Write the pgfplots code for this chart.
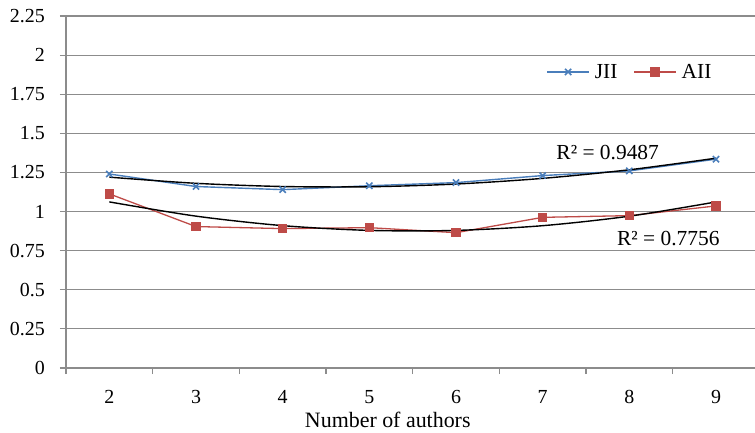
\documentclass[border=0pt]{standalone}
\usepackage{fontspec}
\setmainfont{Liberation Serif}
\usepackage{pgfplots}
\pgfplotsset{compat=1.18}
\definecolor{jii}{HTML}{4A7EBB}
\definecolor{aii}{HTML}{BE4B48}
\definecolor{gridgray}{HTML}{8C8C8C}
\newcommand{\chartfont}{\fontsize{20}{24}\selectfont}
\newcommand{\notefont}{\fontsize{21.5}{25}\selectfont}

\begin{document}
\begin{tikzpicture}
\begin{axis}[name=ax,
  scale only axis, width=689bp, height=352bp,
  xmin=1.5, xmax=9.45, ymin=0, ymax=2.25,
  axis lines=left,
  axis line style={-, draw=gridgray, line width=1.2bp},
  ytick={0,0.25,0.5,0.75,1,1.25,1.5,1.75,2,2.25},
  yticklabels={0,0.25,0.5,0.75,1,1.25,1.5,1.75,2,2.25},
  xtick={1.5,2.5,3.5,4.5,5.5,6.5,7.5,8.5},
  xticklabels={},
  extra x ticks={2,3,4,5,6,7,8,9},
  extra x tick labels={2,3,4,5,6,7,8,9},
  extra x tick style={major tick length=0bp,
    xticklabel style={anchor=base, yshift=-35bp}},
  tick align=outside, major tick length=6bp,
  tick style={draw=gridgray, line width=1.2bp},
  ymajorgrids=true,
  grid style={draw=gridgray, line width=1.2bp},
  tick label style={font=\chartfont, text=black},
  yticklabel style={anchor=east, inner sep=0bp, xshift=-15bp},
  legend style={draw=none, fill=none, font=\notefont,
    legend columns=2, at={(rel axis cs:0.697,0.841)}, anchor=west,
    inner sep=0bp, nodes={inner sep=0bp},
    /tikz/every odd column/.append style={column sep=5bp},
    /tikz/every even column/.append style={column sep=16bp}},
  legend image code/.code={
    \draw[mark repeat=2, mark phase=2, #1]
      plot coordinates {(0bp,0bp) (21bp,0bp) (42bp,0bp)};},
  clip=false,
]
% series
\addplot[jii, line width=1.4bp, mark=x, mark size=4.4bp,
  mark options={line width=1.6bp}]
  coordinates {(2,1.240) (3,1.160) (4,1.140) (5,1.165) (6,1.185)
               (7,1.230) (8,1.260) (9,1.335)};
\addlegendentry{JII}
\addplot[aii, line width=1.3bp, mark=square*, mark size=4.1bp]
  coordinates {(2,1.113) (3,0.904) (4,0.891) (5,0.897) (6,0.865)
               (7,0.963) (8,0.974) (9,1.036)};
\addlegendentry{AII}
% quadratic trend lines (fitted values at each category)
\addplot[black, line width=1.4bp, smooth, forget plot]
  coordinates {(2,1.2198) (3,1.1805) (4,1.1601) (5,1.1585) (6,1.1759)
               (7,1.2121) (8,1.2671) (9,1.3411)};
\addplot[black, line width=1.4bp, smooth, forget plot]
  coordinates {(2,1.0617) (3,0.9707) (4,0.9100) (5,0.8795) (6,0.8795)
               (7,0.9097) (8,0.9704) (9,1.0615)};
\node[font=\notefont, anchor=base] at (axis cs:7.75,1.33) {R² = 0.9487};
\node[font=\notefont, anchor=base] at (axis cs:8.45,0.786) {R² = 0.7756};
\node[font=\fontsize{22}{26}\selectfont, anchor=base] at (rel axis cs:0.467,0) [yshift=-59bp] {Number of authors};
\end{axis}
\pgfresetboundingbox
\useasboundingbox ([xshift=-66bp,yshift=-65bp]ax.south west) rectangle ([yshift=16bp]ax.north east);
\end{tikzpicture}
\end{document}
